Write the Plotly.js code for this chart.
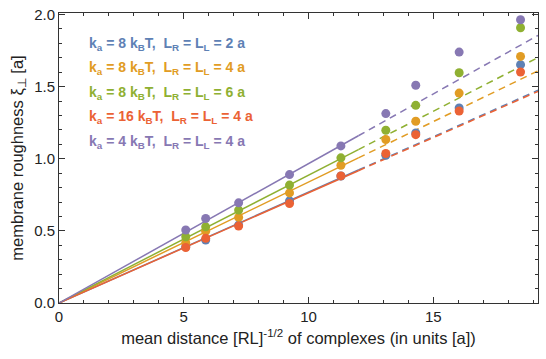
<!DOCTYPE html>
<html>
<head>
<script src="https://cdn.plot.ly/plotly-3.0.1.min.js"></script>
<style>body{margin:0;background:#fff}</style>
</head>
<body>
<div id="plot" style="width:546px;height:359px"></div>
<script>
// mean distance of complexes (in units a)
const distances = [5.08, 5.88, 7.2, 9.24, 11.3, 13.1, 14.3, 16.04, 18.5];

// membrane roughness per parameter set
const blueY   = [0.39, 0.436, 0.54, 0.708, 0.88, 1.024, 1.178, 1.352, 1.652];
const orangeY = [0.417, 0.498, 0.593, 0.763, 0.955, 1.133, 1.26, 1.455, 1.709];
const greenY  = [0.459, 0.528, 0.644, 0.817, 1.006, 1.197, 1.37, 1.596, 1.908];
const redY    = [0.385, 0.448, 0.533, 0.69, 0.881, 1.036, 1.167, 1.331, 1.601];
const purpleY = [0.506, 0.586, 0.694, 0.89, 1.089, 1.313, 1.509, 1.739, 1.963];

// slopes of linear fits through origin
const slopes = [0.0768, 0.0838, 0.0886, 0.0764, 0.0966];
const fitSolidX = [0, 12];
const fitDashX = [12, 19.2];

const seriesY = [blueY, orangeY, greenY, redY, purpleY];
const colors = ['#5e81b5', '#e19c24', '#8fb032', '#eb6235', '#8778b3'];
const labels = [
    'k<sub>a</sub> = 8 k<sub>B</sub>T,  L<sub>R</sub> = L<sub>L</sub> = 2 a',
    'k<sub>a</sub> = 8 k<sub>B</sub>T,  L<sub>R</sub> = L<sub>L</sub> = 4 a',
    'k<sub>a</sub> = 8 k<sub>B</sub>T,  L<sub>R</sub> = L<sub>L</sub> = 6 a',
    'k<sub>a</sub> = 16 k<sub>B</sub>T,  L<sub>R</sub> = L<sub>L</sub> = 4 a',
    'k<sub>a</sub> = 4 k<sub>B</sub>T,  L<sub>R</sub> = L<sub>L</sub> = 4 a'
];

const fam = 'Liberation Sans';

let data = [];
// fit lines first, markers on top
slopes.forEach(function(k, i) {
    data.push({
        x: fitSolidX, y: fitSolidX.map(x => k * x),
        mode: 'lines', line: {color: colors[i], width: 1.5},
        hoverinfo: 'skip', showlegend: false
    });
    data.push({
        x: fitDashX, y: fitDashX.map(x => k * x),
        mode: 'lines', line: {color: colors[i], width: 1.5, dash: '7px,5px'},
        hoverinfo: 'skip', showlegend: false
    });
});
seriesY.forEach(function(ys, i) {
    data.push({
        x: distances, y: ys,
        mode: 'markers', marker: {color: colors[i], size: 9},
        showlegend: false
    });
});

const annotations = labels.map(function(t, i) {
    return {
        text: '<b>' + t + '</b>',
        xref: 'paper', yref: 'paper',
        x: (87 - 59) / 479, xanchor: 'left',
        y: (303 - (44 + i * 24.4)) / 290, yanchor: 'middle',
        showarrow: false,
        font: {color: colors[i], size: 14, family: fam}
    };
});

var layout = {
    width: 546, height: 359,
    margin: {l: 59, r: 8, t: 13, b: 56},
    paper_bgcolor: '#fff', plot_bgcolor: '#fff',
    font: {family: fam, size: 15, color: '#222'},
    xaxis: {
        range: [0, 19.2],
        title: {text: 'mean distance [RL]<sup>-1/2</sup> of complexes (in units [a])', font: {family: fam, size: 16.5, color: '#222'}, standoff: 8},
        tickvals: [0, 5, 10, 15],
        tickfont: {family: fam, size: 15, color: '#222'},
        ticks: 'inside', ticklen: 6, tickcolor: '#333',
        minor: {dtick: 1, ticks: 'inside', ticklen: 3, tickcolor: '#333'},
        showgrid: false, zeroline: false,
        showline: true, linecolor: '#333', linewidth: 1, mirror: 'ticks'
    },
    yaxis: {
        range: [0, 2.01],
        title: {text: 'membrane roughness ξ<sub>⊥</sub> [a]', font: {family: fam, size: 16.5, color: '#222'}, standoff: 6},
        tickvals: [0, 0.5, 1, 1.5, 2],
        tickformat: '.1f',
        tickfont: {family: fam, size: 15, color: '#222'},
        ticks: 'inside', ticklen: 6, tickcolor: '#333',
        minor: {dtick: 0.1, ticks: 'inside', ticklen: 3, tickcolor: '#333'},
        showgrid: false, zeroline: false,
        showline: true, linecolor: '#333', linewidth: 1, mirror: 'ticks'
    },
    annotations: annotations
};

Plotly.newPlot('plot', data, layout, {displayModeBar: false, staticPlot: true});
</script>
</body>
</html>
